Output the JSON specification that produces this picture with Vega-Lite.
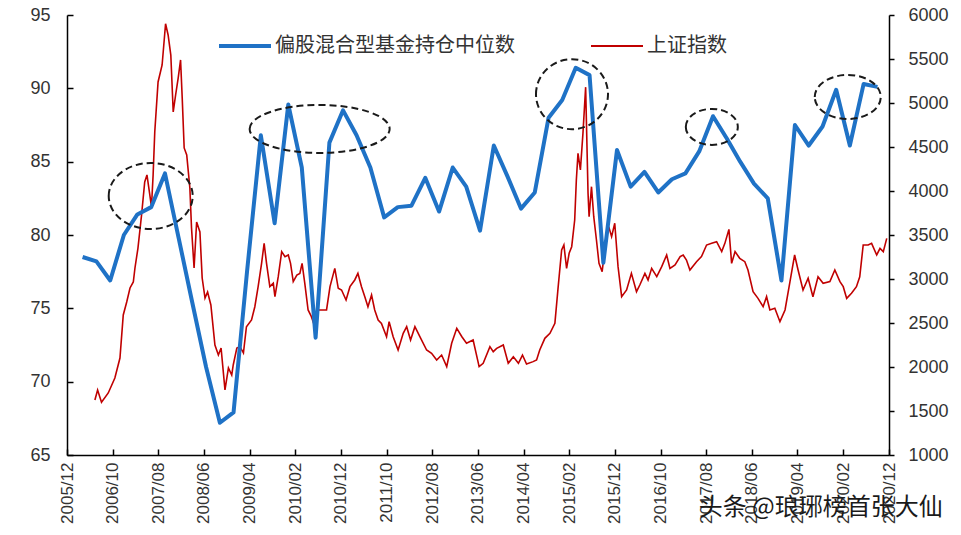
{
  "$schema": "https://vega.github.io/schema/vega-lite/v6.json",
  "width": 822,
  "height": 440,
  "autosize": {"type": "none"},
  "padding": {"left": 67, "top": 15, "right": 72, "bottom": 80},
  "background": "white",
  "config": {"view": {"stroke": null}, "axis": {"labelFont": "Liberation Sans"}},
  "datasets": {
    "fund": [
      {"d":"2006/03/15","pos":78.5},{"d":"2006/06/15","pos":78.2},{"d":"2006/09/15","pos":76.9},{"d":"2006/12/15","pos":80.0},
      {"d":"2007/03/15","pos":81.4},{"d":"2007/06/15","pos":81.9},{"d":"2007/09/15","pos":84.2},{"d":"2007/12/15","pos":79.8},
      {"d":"2008/03/15","pos":75.4},{"d":"2008/06/15","pos":71.0},{"d":"2008/09/15","pos":67.2},{"d":"2008/12/15","pos":67.9},
      {"d":"2009/03/15","pos":77.5},{"d":"2009/06/15","pos":86.8},{"d":"2009/09/15","pos":80.8},{"d":"2009/12/15","pos":88.9},
      {"d":"2010/03/15","pos":84.6},{"d":"2010/06/15","pos":73.0},{"d":"2010/09/15","pos":86.3},{"d":"2010/12/15","pos":88.5},
      {"d":"2011/03/15","pos":86.8},{"d":"2011/06/15","pos":84.6},{"d":"2011/09/15","pos":81.2},{"d":"2011/12/15","pos":81.9},
      {"d":"2012/03/15","pos":82.0},{"d":"2012/06/15","pos":83.9},{"d":"2012/09/15","pos":81.6},{"d":"2012/12/15","pos":84.6},
      {"d":"2013/03/15","pos":83.3},{"d":"2013/06/15","pos":80.3},{"d":"2013/09/15","pos":86.1},{"d":"2013/12/15","pos":84.0},
      {"d":"2014/03/15","pos":81.8},{"d":"2014/06/15","pos":82.9},{"d":"2014/09/15","pos":88.0},{"d":"2014/12/15","pos":89.2},
      {"d":"2015/03/15","pos":91.4},{"d":"2015/06/15","pos":90.9},{"d":"2015/09/15","pos":78.1},{"d":"2015/12/15","pos":85.8},
      {"d":"2016/03/15","pos":83.3},{"d":"2016/06/15","pos":84.3},{"d":"2016/09/15","pos":82.9},{"d":"2016/12/15","pos":83.8},
      {"d":"2017/03/15","pos":84.2},{"d":"2017/06/15","pos":85.7},{"d":"2017/09/15","pos":88.1},{"d":"2017/12/15","pos":86.6},
      {"d":"2018/03/15","pos":85.0},{"d":"2018/06/15","pos":83.5},{"d":"2018/09/15","pos":82.5},{"d":"2018/12/15","pos":76.9},
      {"d":"2019/03/15","pos":87.5},{"d":"2019/06/15","pos":86.1},{"d":"2019/09/15","pos":87.4},{"d":"2019/12/15","pos":89.9},
      {"d":"2020/03/15","pos":86.1},{"d":"2020/06/15","pos":90.3},{"d":"2020/09/15","pos":90.1}
    ],
    "index": [
      {"d":"2006/06/05","v":1625},{"d":"2006/06/23","v":1739},{"d":"2006/07/19","v":1600},{"d":"2006/09/02","v":1705},
      {"d":"2006/10/16","v":1875},{"d":"2006/11/19","v":2102},{"d":"2006/12/11","v":2591},{"d":"2007/01/03","v":2739},
      {"d":"2007/01/25","v":2898},{"d":"2007/02/16","v":2966},{"d":"2007/02/27","v":3125},{"d":"2007/03/19","v":3352},
      {"d":"2007/04/12","v":3727},{"d":"2007/05/03","v":4102},{"d":"2007/05/18","v":4182},{"d":"2007/06/06","v":3955},
      {"d":"2007/06/17","v":3818},{"d":"2007/06/28","v":4182},{"d":"2007/07/09","v":4670},{"d":"2007/07/31","v":5239},
      {"d":"2007/08/27","v":5432},{"d":"2007/09/19","v":5900},{"d":"2007/10/06","v":5773},{"d":"2007/10/24","v":5545},
      {"d":"2007/11/09","v":4898},{"d":"2007/11/25","v":5091},{"d":"2007/12/12","v":5284},{"d":"2007/12/28","v":5489},
      {"d":"2008/01/08","v":5057},{"d":"2008/01/21","v":4489},{"d":"2008/02/07","v":4409},{"d":"2008/02/28","v":4034},
      {"d":"2008/03/10","v":3580},{"d":"2008/03/27","v":3125},{"d":"2008/04/13","v":3648},{"d":"2008/05/05","v":3534},
      {"d":"2008/05/20","v":3011},{"d":"2008/06/08","v":2784},{"d":"2008/06/25","v":2852},{"d":"2008/07/17","v":2705},
      {"d":"2008/08/13","v":2250},{"d":"2008/09/05","v":2136},{"d":"2008/09/23","v":2216},{"d":"2008/10/19","v":1740},
      {"d":"2008/11/11","v":1989},{"d":"2008/12/03","v":1909},{"d":"2008/12/13","v":2023},{"d":"2009/01/06","v":2216},
      {"d":"2009/01/27","v":2231},{"d":"2009/02/19","v":2159},{"d":"2009/03/11","v":2458},{"d":"2009/04/14","v":2534},
      {"d":"2009/05/06","v":2685},{"d":"2009/05/28","v":2913},{"d":"2009/06/20","v":3178},{"d":"2009/07/07","v":3405},
      {"d":"2009/07/23","v":3178},{"d":"2009/08/14","v":2913},{"d":"2009/09/06","v":2951},{"d":"2009/09/17","v":2799},
      {"d":"2009/10/09","v":3026},{"d":"2009/11/01","v":3311},{"d":"2009/11/23","v":3254},{"d":"2009/12/15","v":3273},
      {"d":"2009/12/30","v":3178},{"d":"2010/01/17","v":2970},{"d":"2010/02/10","v":3045},{"d":"2010/03/02","v":3064},
      {"d":"2010/03/17","v":3178},{"d":"2010/04/04","v":2951},{"d":"2010/04/26","v":2648},{"d":"2010/05/18","v":2572},
      {"d":"2010/06/10","v":2458},{"d":"2010/06/25","v":2648},{"d":"2010/07/24","v":2648},{"d":"2010/08/27","v":2648},
      {"d":"2010/09/19","v":2913},{"d":"2010/10/21","v":3121},{"d":"2010/11/13","v":2894},{"d":"2010/12/05","v":2875},
      {"d":"2011/01/04","v":2761},{"d":"2011/01/30","v":2913},{"d":"2011/03/03","v":2989},{"d":"2011/03/24","v":3064},
      {"d":"2011/04/17","v":2913},{"d":"2011/05/09","v":2799},{"d":"2011/05/30","v":2685},{"d":"2011/06/23","v":2818},
      {"d":"2011/07/14","v":2648},{"d":"2011/08/06","v":2534},{"d":"2011/08/28","v":2496},{"d":"2011/10/01","v":2344},
      {"d":"2011/10/18","v":2515},{"d":"2011/11/14","v":2344},{"d":"2011/12/17","v":2193},{"d":"2012/01/20","v":2383},
      {"d":"2012/02/12","v":2458},{"d":"2012/03/09","v":2307},{"d":"2012/04/07","v":2458},{"d":"2012/05/10","v":2344},
      {"d":"2012/06/24","v":2193},{"d":"2012/07/27","v":2155},{"d":"2012/08/30","v":2080},{"d":"2012/10/02","v":2136},
      {"d":"2012/11/05","v":2004},{"d":"2012/12/08","v":2269},{"d":"2013/01/11","v":2440},{"d":"2013/02/14","v":2344},
      {"d":"2013/03/17","v":2269},{"d":"2013/04/30","v":2307},{"d":"2013/06/09","v":2004},{"d":"2013/07/06","v":2042},
      {"d":"2013/08/20","v":2231},{"d":"2013/09/11","v":2174},{"d":"2013/10/04","v":2212},{"d":"2013/11/17","v":2250},
      {"d":"2013/12/20","v":2042},{"d":"2014/01/23","v":2117},{"d":"2014/02/26","v":2042},{"d":"2014/03/25","v":2136},
      {"d":"2014/04/21","v":2034},{"d":"2014/06/04","v":2061},{"d":"2014/06/27","v":2080},{"d":"2014/07/18","v":2193},
      {"d":"2014/08/21","v":2326},{"d":"2014/09/24","v":2383},{"d":"2014/10/27","v":2496},{"d":"2014/11/18","v":2913},
      {"d":"2014/12/11","v":3330},{"d":"2014/12/26","v":3386},{"d":"2015/01/13","v":3121},{"d":"2015/01/30","v":3292},
      {"d":"2015/02/16","v":3367},{"d":"2015/03/08","v":3670},{"d":"2015/03/19","v":4125},{"d":"2015/03/30","v":4428},
      {"d":"2015/04/15","v":4239},{"d":"2015/05/02","v":4655},{"d":"2015/05/20","v":5180},{"d":"2015/06/05","v":3973},
      {"d":"2015/06/12","v":3708},{"d":"2015/06/28","v":4049},{"d":"2015/07/13","v":3708},{"d":"2015/07/31","v":3443},
      {"d":"2015/08/17","v":3178},{"d":"2015/09/07","v":3083},{"d":"2015/09/29","v":3405},{"d":"2015/10/21","v":3595},
      {"d":"2015/11/09","v":3481},{"d":"2015/11/30","v":3633},{"d":"2015/12/22","v":3140},{"d":"2016/01/15","v":2799},
      {"d":"2016/02/17","v":2875},{"d":"2016/03/20","v":3064},{"d":"2016/04/23","v":2856},{"d":"2016/05/15","v":2932},
      {"d":"2016/06/18","v":3064},{"d":"2016/07/09","v":2989},{"d":"2016/08/02","v":3121},{"d":"2016/09/05","v":3026},
      {"d":"2016/10/08","v":3140},{"d":"2016/11/10","v":3273},{"d":"2016/12/02","v":3121},{"d":"2017/01/05","v":3159},
      {"d":"2017/02/08","v":3254},{"d":"2017/02/28","v":3273},{"d":"2017/03/22","v":3216},{"d":"2017/04/14","v":3102},
      {"d":"2017/05/28","v":3197},{"d":"2017/06/30","v":3254},{"d":"2017/08/03","v":3386},{"d":"2017/09/06","v":3405},
      {"d":"2017/10/09","v":3424},{"d":"2017/11/12","v":3311},{"d":"2017/12/03","v":3405},{"d":"2017/12/30","v":3564},
      {"d":"2018/01/17","v":3178},{"d":"2018/02/09","v":3311},{"d":"2018/03/12","v":3235},{"d":"2018/04/15","v":3197},
      {"d":"2018/05/06","v":3102},{"d":"2018/06/09","v":2856},{"d":"2018/07/12","v":2780},{"d":"2018/08/15","v":2685},
      {"d":"2018/09/07","v":2799},{"d":"2018/09/29","v":2648},{"d":"2018/11/01","v":2667},{"d":"2018/12/05","v":2515},
      {"d":"2019/01/08","v":2648},{"d":"2019/02/10","v":2970},{"d":"2019/03/13","v":3273},{"d":"2019/04/05","v":3102},
      {"d":"2019/05/08","v":2875},{"d":"2019/06/11","v":3008},{"d":"2019/07/13","v":2799},{"d":"2019/08/16","v":3026},
      {"d":"2019/09/19","v":2951},{"d":"2019/11/03","v":2970},{"d":"2019/12/06","v":3102},{"d":"2020/01/09","v":2970},
      {"d":"2020/01/31","v":2913},{"d":"2020/02/23","v":2780},{"d":"2020/03/26","v":2837},{"d":"2020/04/28","v":2913},
      {"d":"2020/05/20","v":3026},{"d":"2020/06/12","v":3386},{"d":"2020/07/15","v":3386},{"d":"2020/08/07","v":3405},
      {"d":"2020/09/10","v":3273},{"d":"2020/10/02","v":3348},{"d":"2020/10/24","v":3311},{"d":"2020/11/16","v":3462}
    ],
    "rings": [
      {"d":"2007/06/12","pos":82.66,"ring":"a"},
      {"d":"2010/07/12","pos":87.23,"ring":"b"},
      {"d":"2015/02/18","pos":89.6,"ring":"c"},
      {"d":"2017/09/07","pos":87.37,"ring":"d"},
      {"d":"2020/03/01","pos":89.41,"ring":"e"}
    ],
    "wm": [
      {"d":"2019/09/03","pos":61.4,"t":"头条 @琅琊榜首张大仙"}
    ]
  },
  "encoding": {
    "x": {
      "field": "d",
      "type": "temporal",
      "title": null,
      "scale": {"domain": [{"year": 2005, "month": 12, "date": 1}, {"year": 2020, "month": 12, "date": 1}]},
      "axis": {
        "orient": "bottom",
        "format": "%Y/%m",
        "labelAngle": 270,
        "grid": false,
        "values": [
          {"year":2005,"month":12,"date":1},{"year":2006,"month":10,"date":1},{"year":2007,"month":8,"date":1},
          {"year":2008,"month":6,"date":1},{"year":2009,"month":4,"date":1},{"year":2010,"month":2,"date":1},
          {"year":2010,"month":12,"date":1},{"year":2011,"month":10,"date":1},{"year":2012,"month":8,"date":1},
          {"year":2013,"month":6,"date":1},{"year":2014,"month":4,"date":1},{"year":2015,"month":2,"date":1},
          {"year":2015,"month":12,"date":1},{"year":2016,"month":10,"date":1},{"year":2017,"month":8,"date":1},
          {"year":2018,"month":6,"date":1},{"year":2019,"month":4,"date":1},{"year":2020,"month":2,"date":1},
          {"year":2020,"month":12,"date":1}
        ],
        "domainColor": "#000",
        "domainWidth": 1.5,
        "tickColor": "#000",
        "tickWidth": 1.5,
        "tickSize": -6,
        "labelPadding": 13,
        "labelFontSize": 17,
        "labelColor": "#333",
        "labelOverlap": false,
        "labelFlush": false
      }
    }
  },
  "layer": [
    {
      "data": {"name": "index"},
      "mark": {"type": "line", "strokeWidth": 1.6, "interpolate": "linear"},
      "encoding": {
        "y": {
          "field": "v",
          "type": "quantitative",
          "title": null,
          "scale": {"domain": [1000, 6000], "nice": false, "zero": false},
          "axis": {
            "orient": "right",
            "values": [1000,1500,2000,2500,3000,3500,4000,4500,5000,5500,6000],
            "format": "d",
            "grid": false,
            "domainColor": "#000",
            "domainWidth": 1.5,
            "tickColor": "#000",
            "tickWidth": 1.5,
            "tickSize": 5,
            "labelPadding": 14,
            "labelFontSize": 18,
            "labelColor": "#333"
          }
        },
        "color": {"datum": "上证指数", "type": "nominal"}
      }
    },
    {
      "layer": [
        {
          "data": {"name": "fund"},
          "mark": {"type": "line", "strokeWidth": 4, "strokeJoin": "round"},
          "encoding": {
            "y": {
              "field": "pos",
              "type": "quantitative",
              "title": null,
              "scale": {"domain": [65, 95], "nice": false, "zero": false},
              "axis": {
                "orient": "left",
                "values": [65,70,75,80,85,90,95],
                "grid": false,
                "domainColor": "#000",
                "domainWidth": 1.5,
                "tickColor": "#000",
                "tickWidth": 1.5,
                "tickSize": -6,
                "labelPadding": 23,
                "labelFontSize": 18,
                "labelColor": "#333"
              }
            },
            "color": {
              "datum": "偏股混合型基金持仓中位数",
              "type": "nominal",
              "scale": {"domain": ["偏股混合型基金持仓中位数", "上证指数"], "range": ["#1F72C6", "#C00000"]},
              "legend": {
                "orient": "none",
                "legendX": 168,
                "legendY": 21,
                "direction": "horizontal",
                "title": null,
                "symbolType": "stroke",
                "symbolSize": 2704,
                "symbolStrokeWidth": 4,
                "labelFont": "Noto Sans CJK SC",
                "labelFontSize": 20,
                "labelColor": "#333",
                "labelLimit": 400,
                "columnPadding": 72,
                "labelOffset": 20,
                "encode": {"symbols": {"update": {"strokeWidth": {"signal": "datum.value === '上证指数' ? 2 : 4"}}}}
              }
            }
          }
        },
        {
          "data": {"name": "rings"},
          "mark": {"type": "point", "filled": false, "size": 10000, "stroke": "#1a1a1a", "strokeWidth": 2, "strokeDash": [7, 4], "opacity": 1},
          "encoding": {
            "y": {"field": "pos", "type": "quantitative", "title": null},
            "shape": {
              "field": "ring",
              "type": "nominal",
              "legend": null,
              "scale": {
                "domain": ["a", "b", "c", "d", "e"],
                "range": [
                  "M-0.84,0A0.84,0.66,0,1,1,0.84,0A0.84,0.66,0,1,1,-0.84,0Z",
                  "M-1.4,0A1.4,0.48,0,1,1,1.4,0A1.4,0.48,0,1,1,-1.4,0Z",
                  "M-0.72,0A0.72,0.7,0,1,1,0.72,0A0.72,0.7,0,1,1,-0.72,0Z",
                  "M-0.52,0A0.52,0.36,0,1,1,0.52,0A0.52,0.36,0,1,1,-0.52,0Z",
                  "M-0.66,0A0.66,0.44,0,1,1,0.66,0A0.66,0.44,0,1,1,-0.66,0Z"
                ]
              }
            }
          }
        },
        {
          "data": {"name": "wm"},
          "mark": {"type": "text", "font": "Noto Sans CJK SC", "fontSize": 24, "fill": "#1a1a1a", "align": "center", "baseline": "middle"},
          "encoding": {
            "y": {"field": "pos", "type": "quantitative", "title": null},
            "text": {"field": "t"}
          }
        }
      ]
    }
  ],
  "resolve": {"scale": {"y": "independent"}}
}
